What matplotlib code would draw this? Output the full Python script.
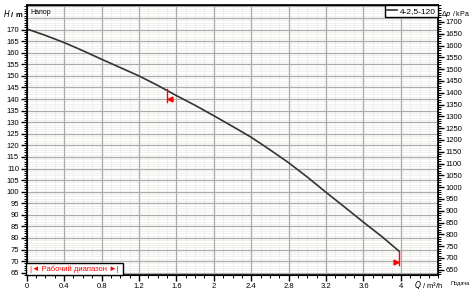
import matplotlib.pyplot as plt
from matplotlib.ticker import MultipleLocator

plt.rcParams['font.family'] = ['Liberation Sans', 'DejaVu Sans']

# pump curve 4-2,5-120
Q = [0, 0.2, 0.4, 0.6, 0.8, 1.0, 1.2, 1.4, 1.6, 1.8, 2.0,
     2.2, 2.4, 2.6, 2.8, 3.0, 3.2, 3.4, 3.6, 3.8, 3.98]
H = [170.3, 167.5, 164.4, 160.9, 157.2, 153.6, 150.0, 145.9, 141.5, 137.3, 132.8,
     128.2, 123.5, 118.1, 112.5, 106.3, 99.7, 93.3, 86.8, 80.5, 74.3]

# working range bounds
q_lo, h_lo = 1.5, 144.2
q_hi, h_hi = 3.98, 74.3

rho_g = 9.81  # kPa per m
fs = 5.5

fig = plt.figure(figsize=(4.71, 2.94), dpi=100)
ax = fig.add_axes([0.0567, 0.0646, 0.8739, 0.9174])

ax.set_xlim(0, 4.4)
ax.set_ylim(64.0, 180.5)

ax.xaxis.set_major_locator(MultipleLocator(0.4))
ax.xaxis.set_minor_locator(MultipleLocator(0.1))
ax.yaxis.set_major_locator(MultipleLocator(5))
ax.yaxis.set_minor_locator(MultipleLocator(1))

# grid: light minor lines first, darker major lines on top
for x in [i * 0.1 for i in range(1, 44)]:
    ax.axvline(x, color='#ececea', lw=0.6, zorder=0.5)
for y in range(65, 181):
    ax.axhline(y, color='#efefeb', lw=0.6, zorder=0.5)
for x in [i * 0.4 for i in range(1, 11)]:
    ax.axvline(x, color='#ababab', lw=0.9, zorder=1)
for y in range(65, 181, 5):
    ax.axhline(y, color='#ababab', lw=0.9, zorder=1)

xt = [0, 0.4, 0.8, 1.2, 1.6, 2, 2.4, 2.8, 3.2, 3.6, 4]
ax.set_xticks(xt)
ax.set_xticklabels(['0', '0.4', '0.8', '1.2', '1.6', '2', '2.4', '2.8', '3.2', '3.6', '4'])
yt = list(range(65, 171, 5))
ax.set_yticks(yt)

ax.tick_params(which='major', length=4, width=1, labelsize=fs, pad=1.5)
ax.tick_params(which='minor', length=2, width=0.7)
for s in ax.spines.values():
    s.set_linewidth(1.2)

curve, = ax.plot(Q, H, color='#333333', lw=1.2, zorder=3)

# working range markers
ax.plot([q_lo, q_lo], [h_lo, 138.9], color='red', lw=1, zorder=4)
ax.plot([q_lo + 0.03], [139.9], marker='<', color='red', ms=3.5, zorder=4)
ax.plot([q_hi, q_hi], [h_hi, 68.3], color='red', lw=1, zorder=4)
ax.plot([q_hi - 0.03], [69.6], marker='>', color='red', ms=3.5, zorder=4)

# right axis in kPa
ax2 = ax.twinx()
ax2.set_ylim(64.0 * rho_g, 180.5 * rho_g)
ax2.yaxis.set_major_locator(MultipleLocator(50))
ax2.yaxis.set_minor_locator(MultipleLocator(10))
ax2.set_yticks(list(range(650, 1701, 50)))
ax2.tick_params(which='major', length=4, width=1, labelsize=fs, pad=1.5)
ax2.tick_params(which='minor', length=2, width=0.7)

# texts
fig.text(0.007, 0.955, '$\\it{H}$ / m', fontsize=fs, fontweight='bold', va='center')
fig.text(0.937, 0.952, 'Δ$\\it{p}$ / kPa', fontsize=fs - 0.5, va='center')
fig.text(0.88, 0.03, '$\\it{Q}$ / m³/h', fontsize=fs, va='center')
fig.text(0.997, 0.037, 'Подача', fontsize=fs - 1.5, va='center', ha='right')
ax.text(0.008, 0.985, 'Напор', transform=ax.transAxes, fontsize=fs - 0.5,
        va='top', ha='left')

leg = ax2.legend([curve], ['4-2,5-120'], loc='upper right', fontsize=fs + 0.5,
                 handlelength=1.2, handletextpad=0.4, borderpad=0.25,
                 borderaxespad=0, fancybox=False, framealpha=1,
                 edgecolor='black')
leg.get_frame().set_linewidth(1)

ax2.text(0.004, 0.008, ' |◄ Рабочий диапазон ►| ', transform=ax.transAxes,
         fontsize=fs, color='red', va='bottom', ha='left', zorder=6,
         bbox=dict(boxstyle='square,pad=0.3', fc='white', ec='black', lw=1))

fig.savefig('out.png', dpi=100)
